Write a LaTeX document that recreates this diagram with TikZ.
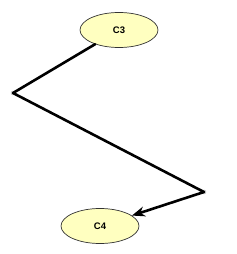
\documentclass[tikz,border=0pt]{standalone}
\usepackage{fontspec}
\setmainfont{Liberation Sans}
\usetikzlibrary{arrows.meta,shapes.geometric}
\definecolor{statec}{RGB}{255,255,192}
\definecolor{bendc}{RGB}{170,170,170}
\tikzset{
  state/.style={ellipse,draw=black!80,line width=.7pt,fill=statec,minimum width=78pt,minimum height=35pt,inner sep=0pt,font=\fontsize{9.5}{11}\selectfont\bfseries},
  bendpt/.style={circle,draw=bendc,fill=white,line width=.4pt,minimum size=4pt,inner sep=0pt},
  link/.style={line width=2.6pt,line cap=round,line join=miter}
}
\begin{document}
\begin{tikzpicture}[x=1pt,y=-1pt,>={Stealth[length=13pt,width=10pt]}]
\useasboundingbox (0,0) rectangle (236,254);
\node[state] (c3) at (119,30){C3};
\node[state] (c4) at (100,226){C4};
\node[bendpt] (b1) at (13,93){};
\node[bendpt] (b2) at (204,192){};
\draw[link] (c3) -- (b1.center);
\draw[link] (b1.center) -- (b2.center);
\draw[link,->] (b2.center) -- (c4);
\end{tikzpicture}
\end{document}
